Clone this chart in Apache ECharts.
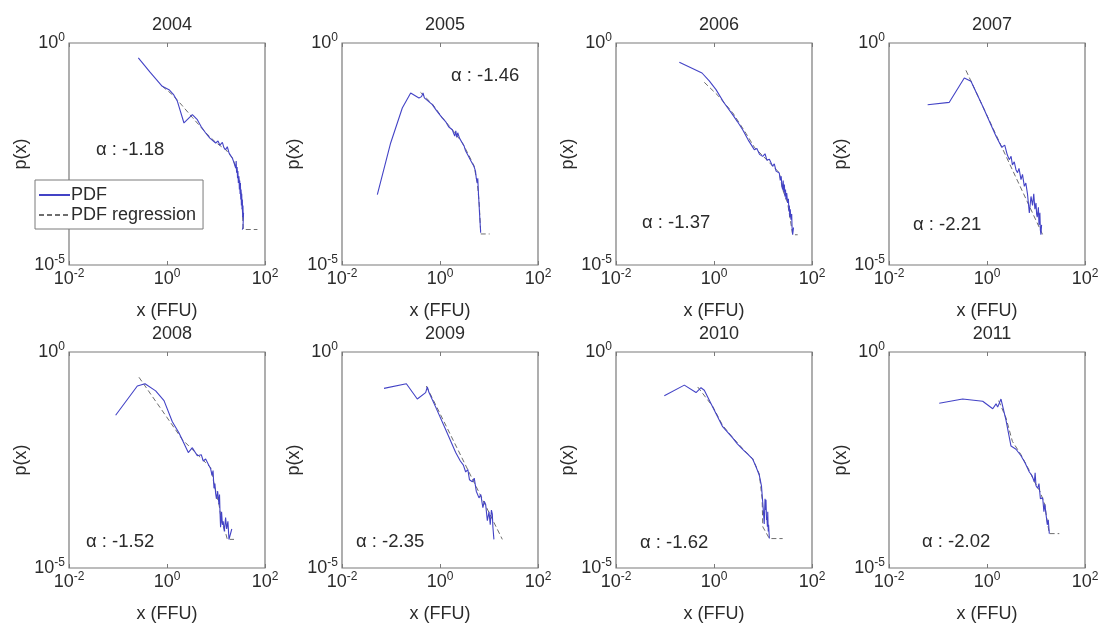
<!DOCTYPE html>
<html>
<head>
<meta charset="utf-8">
<script src="https://cdn.jsdelivr.net/npm/echarts@6/dist/echarts.min.js"></script>
<style>
html,body{margin:0;padding:0;background:#fff;}
#chart{width:1104px;height:624px;}
</style>
</head>
<body>
<div id="chart"></div>
<script>
// ---------- data ----------
const years = ['2004','2005','2006','2007','2008','2009','2010','2011'];
const alphas = ['-1.18','-1.46','-1.37','-2.21','-1.52','-2.35','-1.62','-2.02'];
const xTicks = [0.01, 1, 100];
const yTicks = [0.00001, 1];

const pdf2004 = [[0.26,0.46],[0.45,0.22],[0.80,0.106],[1.10,0.089],[1.35,0.07],[1.63,0.0485],[2.22,0.0158],[3.29,0.0243],[4.16,0.0187],[5.0,0.013],[6.15,0.0094],[7.5,0.0072],[9.84,0.0056],[11,0.0062],[12,0.0050],[13.5,0.0058],[14.5,0.0044],[15.7,0.00396],[17,0.0046],[18.5,0.0033],[20,0.0036],[21.5,0.00257],[23,0.0021],[25.2,0.00153],[25.8,0.0022],[26.3,0.0012],[27,0.0016],[27.5,0.0009],[28,0.0013],[28.6,0.0007],[29.4,0.0010],[30,0.0005],[30.5,0.0008],[31,0.0004],[31.5,0.0007],[32,0.0003],[32.5,0.0005],[33,0.00022],[33.5,0.0004],[34,0.00018],[34.5,0.0003],[35,0.00012],[35.5,0.00022],[36,0.0001],[36.5,0.00015],[35.5,0.00007],[34.4,0.0000625]];
const reg2004 = [[0.80,0.106],[1.3,0.068],[2.0,0.040],[3.3,0.021],[6.2,0.0095],[10,0.0057],[16,0.0039],[22,0.0025],[27,0.0013],[31,0.0006],[34,0.00025],[36,0.000063],[70,0.000063]];

const pdf2005 = [[0.0526,0.000384],[0.0984,0.0056],[0.170,0.0344],[0.252,0.0748],[0.372,0.0577],[0.42,0.062],[0.45,0.075],[0.48,0.058],[0.697,0.0408],[0.85,0.030],[1.11,0.0205],[1.3,0.017],[1.5,0.013],[1.78,0.0111],[2.0,0.0080],[2.1,0.0105],[2.2,0.0075],[2.3,0.0095],[2.5,0.0072],[2.85,0.0056],[3.1,0.0048],[3.3,0.0038],[3.5,0.0042],[3.7,0.0030],[3.91,0.0028],[4.1,0.0024],[4.3,0.0022],[4.6,0.0019],[4.94,0.00167],[5.3,0.0013],[5.5,0.0009],[5.78,0.0007],[5.9,0.0009],[6.1,0.0004],[6.25,0.00025],[6.4,0.00015],[6.76,0.000053]];
const reg2005 = [[0.40,0.0775],[0.7,0.042],[1.11,0.021],[1.78,0.0112],[2.85,0.0057],[3.91,0.0029],[4.94,0.0017],[5.78,0.0007],[6.3,0.00025],[6.8,0.00005],[10.3,0.00005]];

const pdf2006 = [[0.196,0.367],[0.569,0.211],[0.8,0.14],[1.10,0.089],[1.6,0.045],[2.40,0.0243],[3.0,0.017],[3.85,0.0111],[5.0,0.0065],[6.65,0.00396],[7.5,0.0042],[8.5,0.0031],[9.84,0.0028],[11,0.0032],[12,0.0023],[13.5,0.0024],[15.7,0.00167],[17,0.0019],[18.5,0.0013],[21.5,0.00118],[22.5,0.0008],[23.5,0.0010],[24.3,0.0006],[25.2,0.000498],[25.8,0.0008],[26.5,0.00045],[27.3,0.00065],[28,0.00035],[28.8,0.0005],[29.5,0.0003],[30.5,0.00042],[31.8,0.000249],[33,0.00031],[33.8,0.00016],[34.5,0.00022],[35.2,0.00012],[36,0.00018],[37.2,0.000105],[38.5,0.00014],[39.2,0.00007],[40.3,0.000048],[42,0.00007]];
const reg2006 = [[0.634,0.130],[1.2,0.066],[2.4,0.027],[4.5,0.0092],[6.65,0.0045],[9.84,0.0029],[15.7,0.0017],[21.5,0.0012],[25.2,0.0005],[31.8,0.00025],[40.3,0.000048],[51,0.000048]];

const pdf2007 = [[0.0615,0.0408],[0.170,0.0461],[0.344,0.163],[0.471,0.137],[0.817,0.0375],[1.53,0.0079],[2.0,0.0045],[2.3,0.005],[2.6,0.0030],[2.85,0.00236],[3.1,0.0028],[3.3,0.0018],[3.6,0.0021],[3.9,0.0014],[4.2,0.0012],[4.5,0.0015],[4.94,0.00084],[5.3,0.0011],[5.78,0.00059],[6.2,0.0007],[6.7,0.0004],[7.31,0.000148],[7.91,0.00035],[8.5,0.00022],[9.0,0.0004],[9.5,0.00018],[10,0.00025],[10.3,0.00014],[10.6,0.00012],[11.2,0.0002],[11.5,0.00008],[11.7,0.000105],[12.0,0.00015],[12.3,0.00006],[12.6,0.000048],[13.0,0.00008]];
const reg2007 = [[0.372,0.242],[13.7,0.000048]];

const pdf2008 = [[0.0895,0.0344],[0.248,0.163],[0.356,0.184],[0.587,0.126],[0.869,0.0748],[1.285,0.0243],[1.76,0.0133],[2.72,0.0047],[3.29,0.0061],[4.16,0.00396],[5.0,0.0042],[5.5,0.0030],[6.15,0.00333],[7.0,0.0025],[7.78,0.00198],[8.3,0.0014],[8.7,0.0018],[9.10,0.0007],[9.5,0.0009],[9.8,0.00055],[10.2,0.0004],[10.8,0.0006],[11.5,0.000296],[11.8,0.0005],[12.1,0.00018],[12.4,0.000088],[13,0.0002],[13.5,0.0001],[14,0.00012],[14.8,0.00007],[15.7,0.000148],[16.5,0.00008],[17.5,0.00012],[18.4,0.000046],[20,0.000046],[21,0.00008]];
const reg2008 = [[0.268,0.26],[2.06,0.0094],[4.2,0.0042],[7.8,0.0021],[9.3,0.0008],[11.5,0.0003],[13,0.00012],[16,0.00006],[17,0.000046],[23.3,0.000046]];

const pdf2009 = [[0.0719,0.144],[0.206,0.184],[0.344,0.0815],[0.509,0.115],[0.551,0.155],[0.597,0.115],[0.817,0.053],[1.31,0.0158],[2.09,0.0047],[2.6,0.0030],[3.0,0.0024],[3.34,0.00167],[3.7,0.0019],[4.0,0.0011],[4.57,0.00099],[5.0,0.0012],[5.5,0.0006],[6.25,0.00042],[6.8,0.0005],[7.5,0.00025],[8.0,0.00035],[8.55,0.000296],[9.25,0.000125],[10,0.0002],[10.6,0.0001],[11.2,0.00022],[11.7,0.000176],[12.0,0.00009],[12.6,0.000046]];
const reg2009 = [[0.526,0.163],[18.7,0.000046]];

const pdf2010 = [[0.0968,0.0968],[0.248,0.171],[0.430,0.115],[0.543,0.149],[0.634,0.130],[0.94,0.053],[1.50,0.0187],[2.40,0.0103],[3.0,0.0075],[3.85,0.0056],[5.0,0.0042],[6.15,0.00333],[7.2,0.0022],[8.41,0.0014],[9.3,0.0008],[9.84,0.00035],[10.2,0.0002],[10.6,0.000105],[11.0,0.0004],[11.3,0.00022],[11.5,0.00038],[11.8,0.00013],[12.0,0.00015],[12.3,0.00009],[12.5,0.0002],[12.8,0.00007],[13.0,0.0001],[13.5,0.000048]];
const reg2010 = [[0.465,0.155],[0.94,0.055],[1.5,0.02],[2.4,0.0105],[3.85,0.0058],[6.15,0.0034],[8.4,0.0015],[9.6,0.0004],[9.9,0.00009],[13.5,0.000048],[25.2,0.000048]];

const pdf2011 = [[0.106,0.0652],[0.318,0.0815],[0.817,0.0723],[1.31,0.0485],[1.53,0.063],[1.65,0.053],[1.93,0.0815],[2.44,0.0265],[3.09,0.00665],[3.91,0.0056],[4.94,0.00396],[6.0,0.0027],[7.31,0.00167],[8.2,0.0014],[9.25,0.00099],[9.6,0.0016],[10.0,0.0008],[10.8,0.0007],[11.5,0.0009],[12.3,0.0004],[13.7,0.00042],[14.5,0.0002],[15.2,0.0003],[16.0,0.000176],[17,0.0001],[17.8,0.00013],[18.7,0.0000625]];
const reg2011 = [[1.73,0.0748],[2.44,0.03],[3.3,0.0085],[4.94,0.0042],[7.31,0.0018],[9.25,0.001],[12,0.0006],[15,0.0003],[17,0.00012],[18.7,0.0000625],[29.9,0.0000625]];

const pdfSets = [pdf2004,pdf2005,pdf2006,pdf2007,pdf2008,pdf2009,pdf2010,pdf2011];
const regSets = [reg2004,reg2005,reg2006,reg2007,reg2008,reg2009,reg2010,reg2011];

// ---------- layout ----------
const colLeft = [69, 342, 616, 889];
const rowTop = [43, 352];
const boxW = 196, boxH = 222;
const alphaPos = [[96,150],[451,76],[642,223],[913,225],[86,542],[356,542],[640,543],[922,542]];

const TXT = '#2b2b2b';
const FONT = 'Liberation Sans, Arial, Helvetica, sans-serif';

function supLabel(v){
  const e = Math.round(Math.log10(v));
  return '{b|10}{s|' + e + '}';
}
const rich = {
  b: {fontSize: 18, fontFamily: FONT, color: TXT},
  s: {fontSize: 12, fontFamily: FONT, color: TXT, padding: [0,0,10,0]}
};

const grid = [], xAxis = [], yAxis = [], series = [], title = [], graphic = [];
for (let i = 0; i < 8; i++) {
  const r = Math.floor(i / 4), c = i % 4;
  const L = colLeft[c], T = rowTop[r];
  grid.push({left: L, top: T, width: boxW, height: boxH, show: true, borderColor: '#7a7a7a', borderWidth: 1.2, backgroundColor: 'transparent', containLabel: false});
  xAxis.push({
    type: 'log', logBase: 10, gridIndex: i, min: xTicks[0], max: xTicks[2], interval: 2,
    position: 'bottom',
    axisLine: {show: false}, splitLine: {show: false},
    axisTick: {show: true, inside: true, length: 4, lineStyle: {color: '#7a7a7a'}},
    axisLabel: {show: true, formatter: supLabel, rich: rich, margin: 3, hideOverlap: false, showMinLabel: true, showMaxLabel: true},
    name: 'x (FFU)', nameLocation: 'middle', nameGap: 46,
    nameTextStyle: {fontSize: 18, fontFamily: FONT, color: TXT, verticalAlign: 'middle'}
  });
  xAxis.push({
    type: 'log', logBase: 10, gridIndex: i, min: xTicks[0], max: xTicks[2], interval: 2,
    position: 'top',
    axisLine: {show: false}, splitLine: {show: false},
    axisTick: {show: true, inside: true, length: 4, lineStyle: {color: '#7a7a7a'}},
    axisLabel: {show: false}
  });
  yAxis.push({
    type: 'log', logBase: 10, gridIndex: i, min: yTicks[0], max: yTicks[1], interval: 5,
    axisLine: {show: false}, splitLine: {show: false},
    axisTick: {show: false},
    axisLabel: {show: true, formatter: supLabel, rich: rich, margin: 4, hideOverlap: false, showMinLabel: true, showMaxLabel: true},
    name: 'p(x)', nameLocation: 'middle', nameGap: 44,
    nameTextStyle: {fontSize: 18, fontFamily: FONT, color: TXT, verticalAlign: 'middle'}
  });
  series.push({
    name: 'PDF', type: 'line', xAxisIndex: 2 * i, yAxisIndex: i,
    data: pdfSets[i], symbol: 'none', showSymbol: false, animation: false,
    lineStyle: {color: '#4343c6', width: 1.1}, itemStyle: {color: '#4343c6'}, z: 3
  });
  series.push({
    name: 'PDF regression', type: 'line', xAxisIndex: 2 * i, yAxisIndex: i,
    data: regSets[i], symbol: 'none', showSymbol: false, animation: false,
    lineStyle: {color: '#6e6e6e', width: 1, type: [5, 3]}, itemStyle: {color: '#6e6e6e'}, z: 2
  });
  title.push({
    text: years[i], left: L + boxW / 2, top: T - 32, textAlign: 'center',
    textStyle: {fontSize: 18, fontWeight: 'normal', fontFamily: FONT, color: TXT}
  });
  graphic.push({
    type: 'text', left: alphaPos[i][0], top: alphaPos[i][1] - 10,
    style: {text: 'α : ' + alphas[i], fontSize: 18.5, fontFamily: FONT, fill: TXT}
  });
}

const chart = echarts.init(document.getElementById('chart'), null, {renderer: 'canvas'});
chart.setOption({
  backgroundColor: '#ffffff',
  animation: false,
  title: title,
  grid: grid,
  xAxis: xAxis,
  yAxis: yAxis,
  series: series,
  graphic: graphic,
  legend: {
    data: ['PDF', 'PDF regression'],
    orient: 'vertical', left: 35, top: 180,
    backgroundColor: '#ffffff', borderColor: '#7a7a7a', borderWidth: 1, borderRadius: 0,
    padding: [6, 7, 5, 3], itemGap: 2, itemWidth: 31, itemHeight: 18,
    itemStyle: {opacity: 0},
    textStyle: {fontSize: 18, fontFamily: FONT, color: TXT, padding: [0, 0, 0, -4]},
    selectedMode: false, z: 10
  }
});
</script>
</body>
</html>
